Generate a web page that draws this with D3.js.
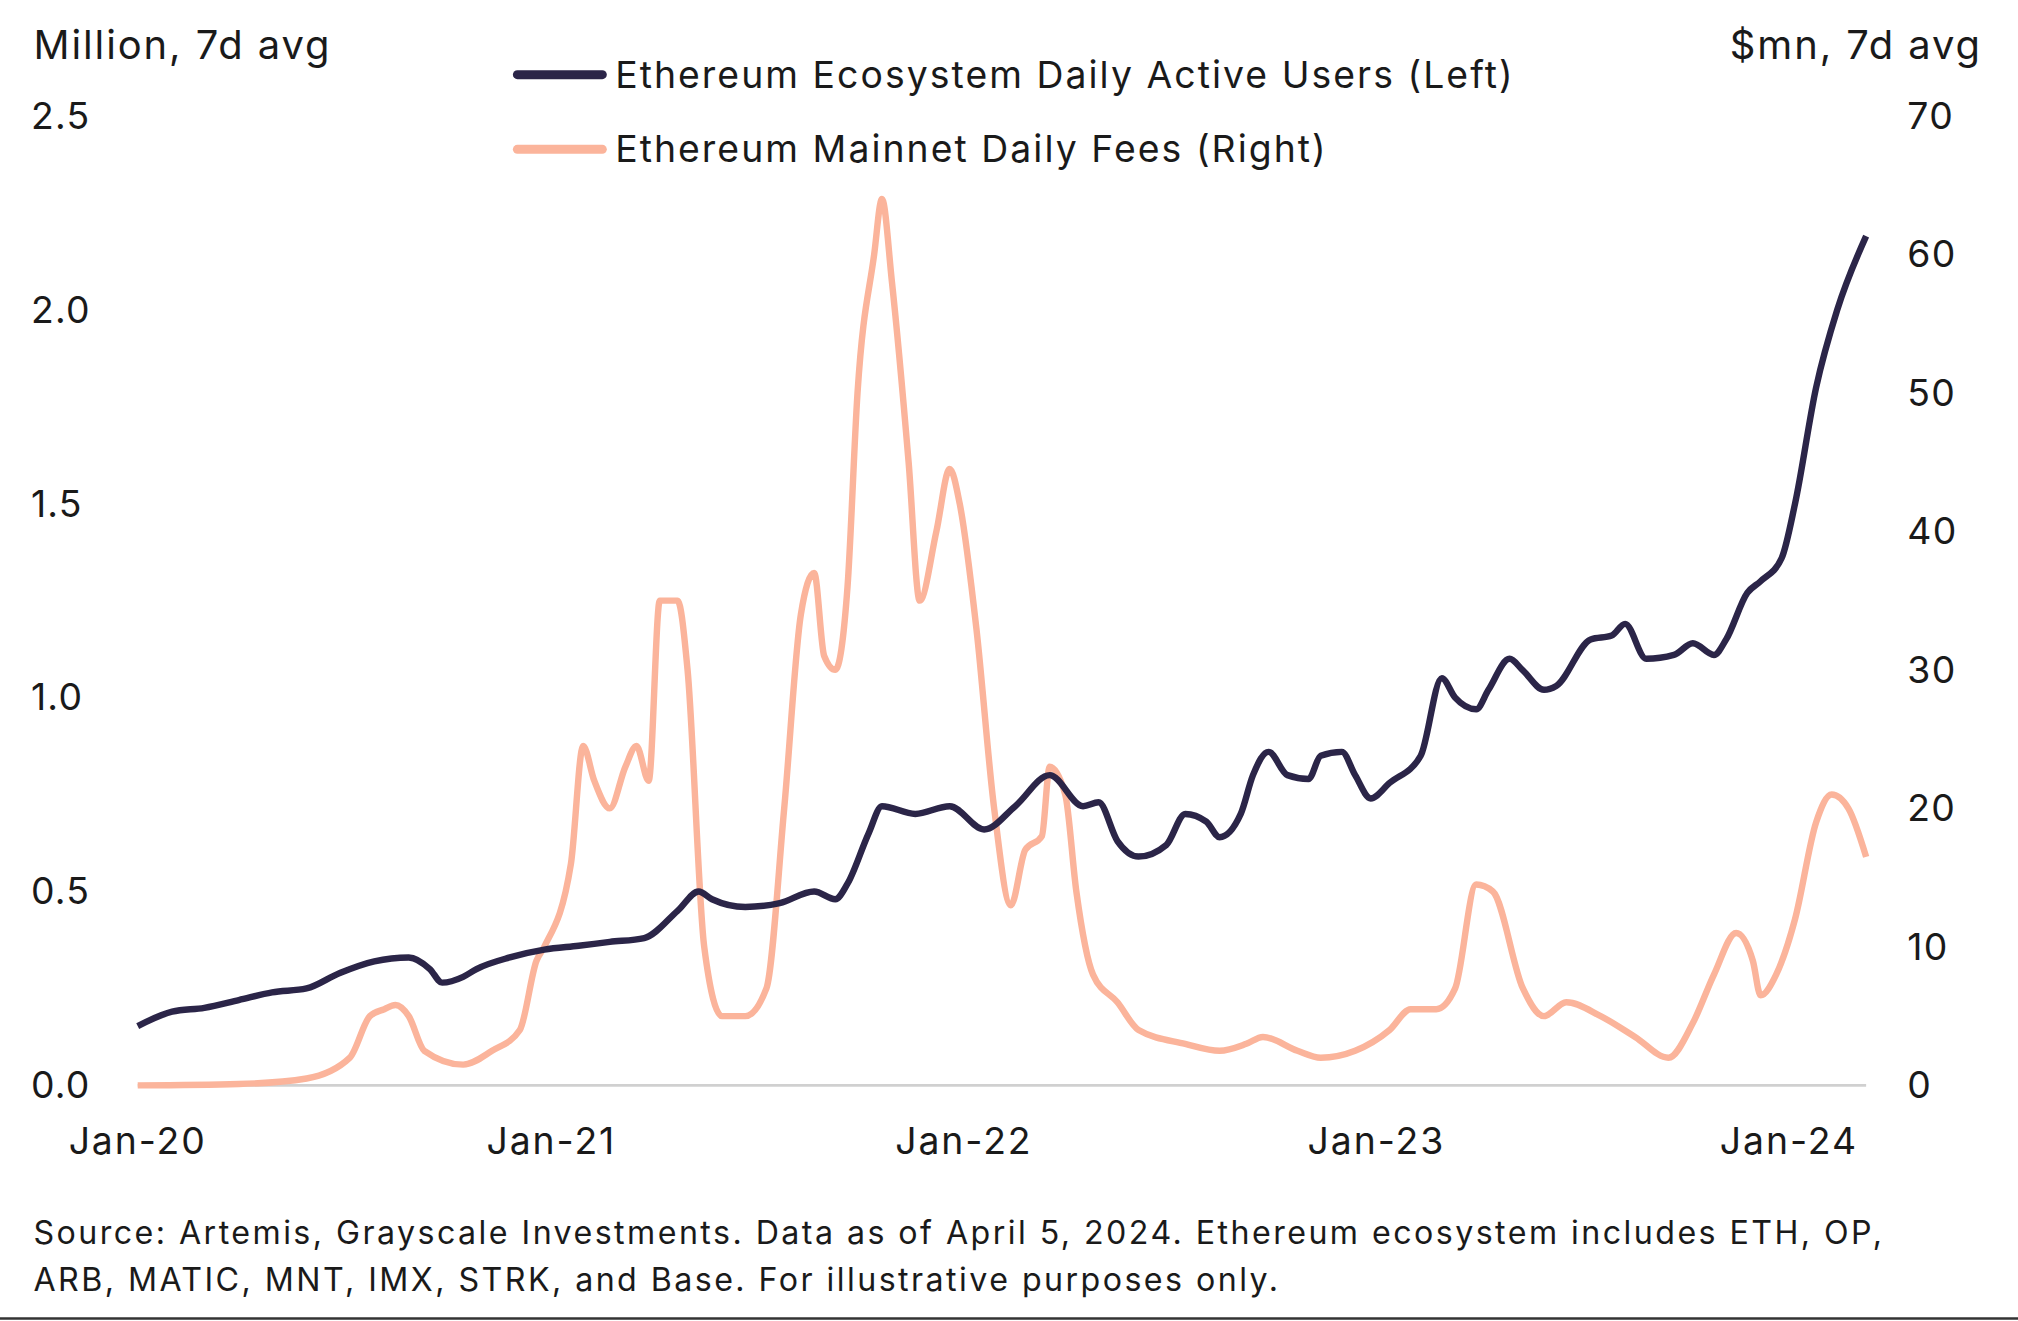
<!DOCTYPE html>
<html><head><meta charset="utf-8">
<script src="https://cdn.jsdelivr.net/npm/d3@7"></script>
<style>body{margin:0;background:#fff}svg{display:block}text{font-family:Inter,"Noto Sans",sans-serif;fill:#1a1a1a}</style>
</head><body><div id="chart"></div>
<script>
// 描画領域 (参照画像 1568x1026 基準で描いて拡大)
var W = 1568, H = 1026;

var userDates = ["2020-01-01","2020-02-01","2020-03-01","2020-04-01","2020-05-01","2020-06-01","2020-07-01","2020-08-01","2020-09-01","2020-09-20","2020-10-01","2020-10-20","2020-11-01","2020-12-01","2021-01-01","2021-02-01","2021-03-01","2021-04-01","2021-05-01","2021-05-20","2021-06-01","2021-07-01","2021-08-01","2021-09-01","2021-09-20","2021-10-01","2021-10-20","2021-11-01","2021-12-01","2022-01-01","2022-02-01","2022-03-01","2022-04-01","2022-05-01","2022-05-15","2022-06-01","2022-06-20","2022-07-15","2022-08-01","2022-08-20","2022-09-01","2022-09-20","2022-10-01","2022-10-15","2022-11-01","2022-11-20","2022-12-01","2022-12-20","2023-01-01","2023-01-15","2023-02-01","2023-03-01","2023-03-20","2023-04-01","2023-04-20","2023-05-01","2023-05-20","2023-06-01","2023-06-20","2023-07-01","2023-08-01","2023-08-20","2023-09-01","2023-09-20","2023-10-15","2023-11-01","2023-11-20","2023-12-01","2023-12-20","2024-01-01","2024-01-20","2024-02-01","2024-02-20","2024-03-10","2024-04-05"];
var userValues = [0.153,0.19,0.2,0.22,0.24,0.25,0.29,0.32,0.33,0.3,0.265,0.28,0.3,0.33,0.35,0.36,0.37,0.38,0.45,0.5,0.48,0.46,0.47,0.5,0.48,0.52,0.65,0.72,0.7,0.72,0.66,0.72,0.8,0.72,0.73,0.63,0.59,0.62,0.7,0.68,0.64,0.7,0.8,0.86,0.8,0.79,0.85,0.86,0.8,0.74,0.78,0.85,1.05,1.0,0.97,1.02,1.1,1.07,1.02,1.03,1.15,1.16,1.19,1.1,1.11,1.14,1.11,1.15,1.27,1.3,1.36,1.5,1.8,2.0,2.19];

var feeDates = ["2020-01-01","2020-04-01","2020-06-01","2020-07-10","2020-07-28","2020-08-10","2020-08-20","2020-09-01","2020-09-15","2020-10-20","2020-11-15","2020-12-10","2020-12-25","2021-01-01","2021-01-25","2021-02-05","2021-02-15","2021-03-01","2021-03-15","2021-03-25","2021-04-05","2021-04-15","2021-05-01","2021-05-10","2021-05-25","2021-06-10","2021-07-01","2021-07-20","2021-08-05","2021-08-20","2021-09-01","2021-09-10","2021-09-20","2021-10-01","2021-10-10","2021-10-25","2021-11-01","2021-11-10","2021-11-25","2021-12-05","2021-12-20","2022-01-01","2022-01-10","2022-01-25","2022-02-10","2022-02-25","2022-03-10","2022-03-25","2022-04-01","2022-04-15","2022-04-25","2022-05-10","2022-06-01","2022-06-20","2022-08-01","2022-09-01","2022-09-25","2022-10-10","2022-11-10","2022-12-01","2023-01-01","2023-02-01","2023-02-20","2023-03-15","2023-04-01","2023-04-20","2023-05-05","2023-06-01","2023-06-20","2023-07-10","2023-08-10","2023-09-10","2023-10-10","2023-11-01","2023-11-20","2023-12-10","2023-12-25","2024-01-01","2024-01-15","2024-02-01","2024-02-20","2024-03-05","2024-03-20","2024-04-05"];
var feeValues = [0,0.1,0.5,2,5,5.5,5.8,5,2.5,1.5,2.5,4,9,10,16,24.5,22,20,23,24.5,22,35,35,30,10,5,5,7,20,34,37,31,30,36,50,60,64,58,45,35,40,44.5,42,33,20,13,17,18,23,21,14,8,6,4,3,2.5,3,3.5,2.5,2,2.5,4,5.5,5.5,7,14.5,14,7,5,6,5,3.5,2,4.5,8,11,9,6.5,8,12,19,21,20,16.5];

var xTickDates = ["2020-01-01","2021-01-01","2022-01-01","2023-01-01","2024-01-01"];
var xTickLabels = ["Jan-20","Jan-21","Jan-22","Jan-23","Jan-24"];
var leftTicks = [0,0.5,1.0,1.5,2.0,2.5];
var rightTicks = [0,10,20,30,40,50,60,70];

var parse = d3.timeParse("%Y-%m-%d");

var svg = d3.select("#chart").append("svg")
	.attr("width", 2018).attr("height", 1321)
	.attr("viewBox", "0 0 " + W + " " + H)
	.attr("preserveAspectRatio", "none");

var x = d3.scaleTime().domain([parse("2020-01-01"), parse("2024-04-05")]).range([107, 1450]);
var xLab = d3.scaleTime().domain([parse("2020-01-01"), parse("2024-01-01")]).range([107, 1390]); // ラベル位置
var yL = d3.scaleLinear().domain([0, 2.5]).range([843, 90]);
var yR = d3.scaleLinear().domain([0, 70]).range([843, 90]);

// 軸
svg.append("line").attr("x1", 107).attr("x2", 1450).attr("y1", 843).attr("y2", 843)
	.attr("stroke", "#d0d0d0").attr("stroke-width", 2);

svg.selectAll(".lt").data(leftTicks).enter().append("text")
	.attr("x", 24).attr("y", function(d){ return yL(d) + 10; })
	.attr("font-size", 29).attr("letter-spacing", 1).text(function(d){ return d3.format(".1f")(d); });
svg.selectAll(".rt").data(rightTicks).enter().append("text")
	.attr("x", 1482).attr("y", function(d){ return yR(d) + 10; })
	.attr("font-size", 29).attr("letter-spacing", 1).text(function(d){ return d; });
svg.selectAll(".xt").data(xTickDates).enter().append("text")
	.attr("x", function(d){ return xLab(parse(d)); }).attr("y", 896)
	.attr("text-anchor", "middle").attr("font-size", 29).attr("letter-spacing", 1.5)
	.text(function(d, i){ return xTickLabels[i]; });

svg.append("text").attr("x", 26).attr("y", 46).attr("font-size", 31).attr("letter-spacing", 1.5).text("Million, 7d avg");
svg.append("text").attr("x", 1540).attr("y", 46).attr("font-size", 31).attr("letter-spacing", 1.5).attr("text-anchor", "end").text("$mn, 7d avg");

// 線
var lineU = d3.line().curve(d3.curveMonotoneX)
	.x(function(d, i){ return x(parse(userDates[i])); }).y(function(d){ return yL(d); });
var lineF = d3.line().curve(d3.curveMonotoneX)
	.x(function(d, i){ return x(parse(feeDates[i])); }).y(function(d){ return yR(d); });

svg.append("path").attr("d", lineF(feeValues)).attr("fill", "none")
	.attr("stroke", "#fbb49b").attr("stroke-width", 5).attr("stroke-linejoin", "round");
svg.append("path").attr("d", lineU(userValues)).attr("fill", "none")
	.attr("stroke", "#2b2548").attr("stroke-width", 5).attr("stroke-linejoin", "round");

// 凡例
var legend = [["Ethereum Ecosystem Daily Active Users (Left)", "#2b2548"], ["Ethereum Mainnet Daily Fees (Right)", "#fbb49b"]];
legend.forEach(function(l, i){
	var yy = 58 + i * 58;
	svg.append("line").attr("x1", 402).attr("x2", 468).attr("y1", yy).attr("y2", yy)
		.attr("stroke", l[1]).attr("stroke-width", 7).attr("stroke-linecap", "round");
	svg.append("text").attr("x", 478).attr("y", yy + 10).attr("font-size", 29).attr("letter-spacing", 1.6).text(l[0]);
});

// 注記
svg.append("text").attr("x", 26).attr("y", 966).attr("font-size", 25).attr("letter-spacing", 1.9)
	.text("Source: Artemis, Grayscale Investments. Data as of April 5, 2024. Ethereum ecosystem includes ETH, OP,");
svg.append("text").attr("x", 26).attr("y", 1003).attr("font-size", 25).attr("letter-spacing", 1.9)
	.text("ARB, MATIC, MNT, IMX, STRK, and Base. For illustrative purposes only.");
svg.append("line").attr("x1", 0).attr("x2", W).attr("y1", 1024).attr("y2", 1024).attr("stroke", "#333").attr("stroke-width", 2);
</script></body></html>
